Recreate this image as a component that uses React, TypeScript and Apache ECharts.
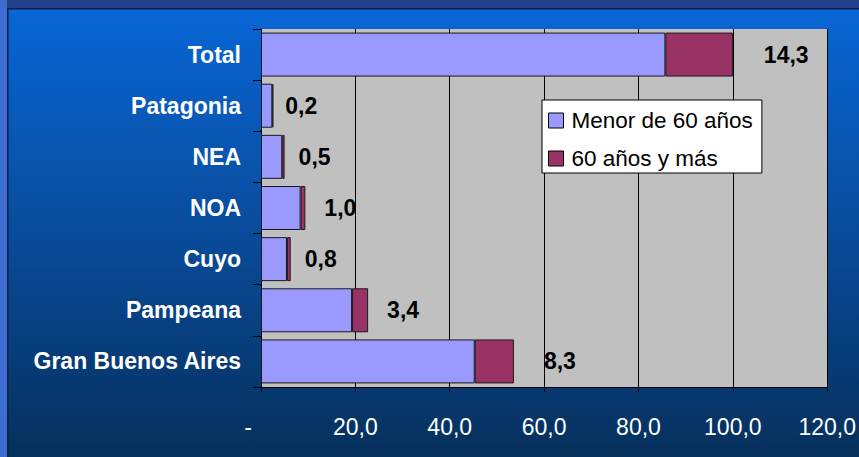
import React, { useEffect, useRef } from "react";
import * as echarts from "echarts";

const categories = ["Total", "Patagonia", "NEA", "NOA", "Cuyo", "Pampeana", "Gran Buenos Aires"];
const menor60 = [85.7, 2.4, 4.5, 8.4, 5.5, 19.3, 45.3];
const mayor60 = [14.3, 0.2, 0.5, 1.0, 0.8, 3.4, 8.3];
const seriesNames = ["Menor de 60 años", "60 años y más"];
const xTicks = { min: 0, max: 120, interval: 20 };
// distance of each value label from the end of its bar (style, not data)
const labelGaps = [31, 12, 14, 19, 14, 19, 30];

const FONT = "Arial, 'Liberation Sans', sans-serif";

export default function App() {
  const ref = useRef<HTMLDivElement>(null);
  useEffect(() => {
    if (!ref.current) return;
    const chart = echarts.init(ref.current, undefined, { renderer: "svg" });
    const fmt = (v: number) => v.toFixed(1).replace(".", ",");
    chart.setOption({
      animation: false,
      backgroundColor: new echarts.graphic.LinearGradient(0, 0, 0, 1, [
        { offset: 0, color: "#0867D8" },
        { offset: 0.5, color: "#094C9C" },
        { offset: 1, color: "#06305C" },
      ]),
      graphic: [
        { type: "rect", shape: { x: 0, y: 0, width: 859, height: 8 }, style: { fill: "#22418A" }, silent: true },
        { type: "rect", shape: { x: 0, y: 8, width: 859, height: 1.5 }, style: { fill: "#0B1E48" }, silent: true },
        { type: "rect", shape: { x: 0, y: 0, width: 7, height: 457 }, style: { fill: "#3D6DD0" }, silent: true },
        { type: "rect", shape: { x: 7, y: 8, width: 1.5, height: 449 }, style: { fill: "#0B1E48" }, silent: true },
      ],
      grid: {
        left: 261,
        right: 27,
        top: 29,
        bottom: 70,
        show: true,
        backgroundColor: "#C0C0C0",
        borderWidth: 0,
      },
      legend: {
        orient: "vertical",
        left: 542,
        top: 100,
        backgroundColor: "#FFFFFF",
        borderColor: "#000000",
        borderWidth: 1,
        borderRadius: 0,
        padding: [9, 9, 3, 6],
        itemWidth: 15,
        itemHeight: 15,
        itemGap: 15,
        icon: "rect",
        itemStyle: { borderColor: "#000000", borderWidth: 1 },
        textStyle: { fontSize: 22.5, color: "#000000", fontFamily: FONT, padding: [0, 0, 0, 3] },
        data: seriesNames,
      },
      xAxis: {
        type: "value",
        min: xTicks.min,
        max: xTicks.max,
        interval: xTicks.interval,
        axisLine: { show: true, lineStyle: { color: "#000000", width: 1 } },
        axisTick: { show: true, length: 5, lineStyle: { color: "#000000" } },
        splitLine: { show: true, lineStyle: { color: "#000000", width: 1 } },
        axisLabel: {
          color: "#FFFFFF",
          fontSize: 23,
          fontFamily: FONT,
          margin: 28,
          formatter: (v: number) => (v === 0 ? "{z|-}" : fmt(v)),
          rich: { z: { color: "#FFFFFF", fontSize: 23, fontFamily: FONT, padding: [0, 26, 0, 0] } },
        },
      },
      yAxis: {
        type: "category",
        inverse: true,
        data: categories,
        axisLine: { show: true, lineStyle: { color: "#000000", width: 1 } },
        axisTick: { show: true, length: 8, lineStyle: { color: "#000000" } },
        axisLabel: {
          color: "#FFFFFF",
          fontSize: 23,
          fontWeight: "bold",
          fontFamily: FONT,
          margin: 20,
        },
      },
      series: [
        {
          name: seriesNames[0],
          type: "bar",
          stack: "total",
          barCategoryGap: "14%",
          itemStyle: { color: "#9999FF", borderColor: "#1A1A1A", borderWidth: 1 },
          data: menor60,
        },
        {
          name: seriesNames[1],
          type: "bar",
          stack: "total",
          barCategoryGap: "14%",
          itemStyle: { color: "#993366", borderColor: "#1A1A1A", borderWidth: 1 },
          label: {
            show: true,
            position: "right",
            color: "#000000",
            fontSize: 23,
            fontWeight: "bold",
            fontFamily: FONT,
            formatter: (p: any) => fmt(mayor60[p.dataIndex]),
          },
          data: mayor60.map((v, i) => ({ value: v, label: { distance: labelGaps[i] } })),
        },
      ],
    });
    return () => chart.dispose();
  }, []);
  return <div ref={ref} style={{ position: "fixed", left: 0, top: 0, width: 859, height: 457 }} />;
}
